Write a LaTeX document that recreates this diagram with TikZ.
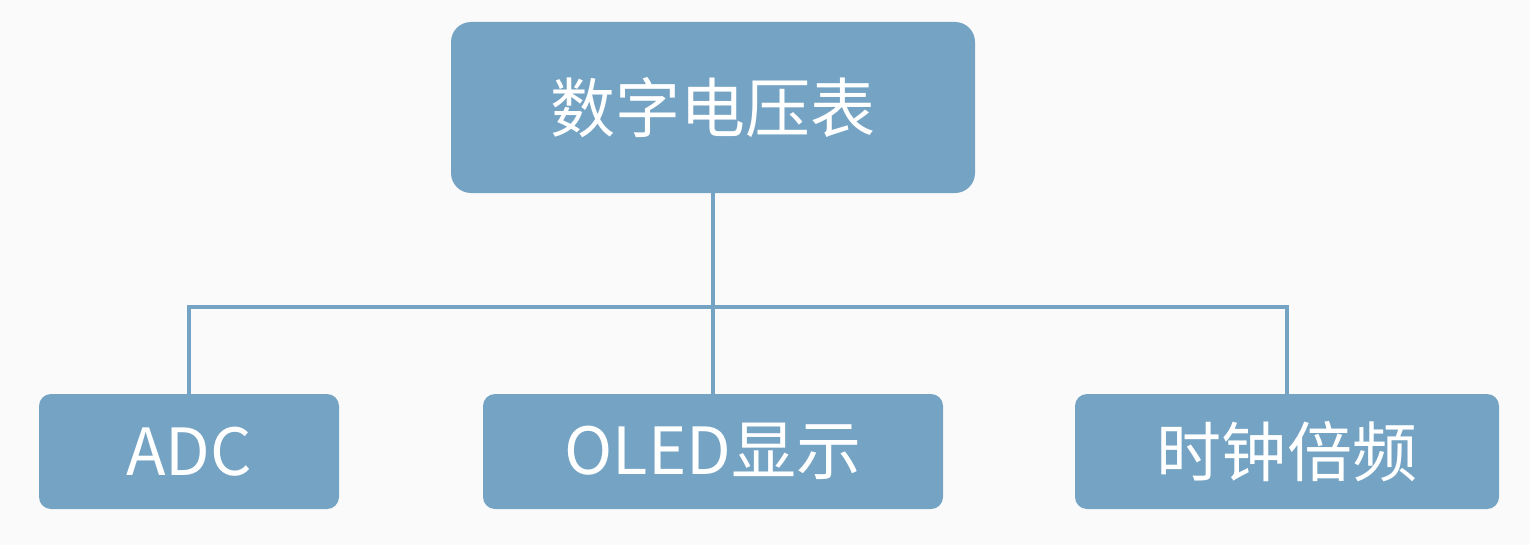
\documentclass[tikz,border=0pt]{standalone}
\usepackage{fontspec}
\newfontfamily\cjk{Noto Sans CJK SC}
\usepackage{tikz}
\usetikzlibrary{positioning}
\usepackage{xcolor}
\definecolor{boxblue}{HTML}{74A3C3}
\definecolor{pagebg}{HTML}{FAFAFA}

\begin{document}
\begin{tikzpicture}[
  box/.style={fill=boxblue, text=white, font=\cjk\fontsize{37}{40}\selectfont, inner sep=0pt},
  link/.style={draw=boxblue, line width=2pt}
]
\fill[pagebg] (0,0) rectangle (30.6,10.9);
\useasboundingbox (0,0) rectangle (30.6,10.9);
% top
\node[box, rounded corners=0.4cm, minimum width=10.48cm, minimum height=3.42cm] (root) at (14.26,8.75) {数字电压表};
% bottom row
\node[box, rounded corners=0.24cm, minimum width=6.0cm, minimum height=2.3cm] (adc) at (3.78,1.87) {ADC};
\node[box, rounded corners=0.24cm, minimum width=9.2cm, minimum height=2.3cm] (oled) at (14.26,1.87) {OLED显示};
\node[box, rounded corners=0.24cm, minimum width=8.48cm, minimum height=2.3cm] (clk) at (25.74,1.87) {时钟倍频};
\coordinate (bus) at (14.26,4.76);
\draw[link] (root.south) -- (bus);
\draw[link] (adc.north) |- (bus) -| (clk.north);
\draw[link] (oled.north) -- (bus);
\end{tikzpicture}
\end{document}
